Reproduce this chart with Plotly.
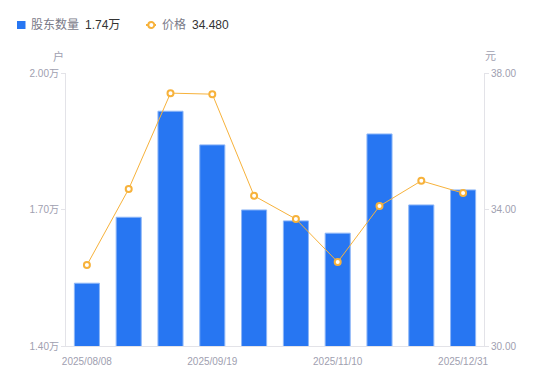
import plotly.graph_objects as go

dates = ["2025/08/08", "2025/08/20", "2025/08/31", "2025/09/19", "2025/09/30",
         "2025/10/20", "2025/11/10", "2025/11/20", "2025/11/30", "2025/12/31"]
holders = [1.538, 1.683, 1.916, 1.842, 1.699, 1.675, 1.648, 1.866, 1.710, 1.743]  # 万户
prices = [32.37, 34.60, 37.41, 37.38, 34.40, 33.72, 32.46, 34.10, 34.84, 34.48]
tick_dates = ["2025/08/08", "2025/09/19", "2025/11/10", "2025/12/31"]
left_ticks = [1.40, 1.70, 2.00]
left_ticktext = ["1.40万", "1.70万", "2.00万"]
right_ticks = [30, 34, 38]
right_ticktext = ["30.00", "34.00", "38.00"]

BLUE = "#2776F2"
ORANGE = "#F7B23B"
AXIS = "#E3E3E8"
TICKC = "#A0A0B0"
FONT = "Liberation Sans, Arial, Noto Sans CJK SC"

fig = go.Figure()
fig.add_trace(go.Bar(x=dates, y=holders, width=0.6, marker=dict(color=BLUE, line=dict(color="#8DB6F7", width=1)),
                     name="股东数量", yaxis="y"))
fig.add_trace(go.Scatter(x=dates, y=prices, mode="lines+markers", name="价格", yaxis="y2",
                         line=dict(color=ORANGE, width=1),
                         marker=dict(symbol="circle", size=6, color="white", line=dict(color=ORANGE, width=2))))

fig.update_layout(
    width=550, height=381,
    margin=dict(l=58, r=74, t=65, b=43),
    paper_bgcolor="white", plot_bgcolor="white",
    showlegend=False,
    font=dict(family=FONT, size=10, color=TICKC),
    xaxis=dict(type="category", range=[-0.5, len(dates) - 0.5], tickvals=tick_dates, ticktext=tick_dates,
               showgrid=False, showline=True, linecolor=AXIS, linewidth=1, ticks="", ticklabelstandoff=6,
               tickfont=dict(size=10, color=TICKC), zeroline=False, automargin=False),
    yaxis=dict(range=[1.4, 2.0], tickvals=left_ticks, ticktext=left_ticktext, showgrid=False,
               showline=True, linecolor=AXIS, linewidth=1, ticks="outside", ticklen=4, tickcolor=AXIS,
               tickfont=dict(size=10, color=TICKC), zeroline=False, automargin=False),
    yaxis2=dict(range=[30, 38], tickvals=right_ticks, ticktext=right_ticktext, overlaying="y", side="right",
                showgrid=False, showline=True, linecolor=AXIS, linewidth=1, ticks="outside", ticklen=4,
                tickcolor=AXIS, tickfont=dict(size=10, color=TICKC), zeroline=False, automargin=False),
    bargap=0.4,
)

def px(x):
    return (x - 66) / 418

def py(y):
    return (346 - y) / 273

# legend drawn manually
fig.add_shape(type="rect", xref="paper", yref="paper", x0=px(17), x1=px(25.5), y0=py(21), y1=py(29),
              line=dict(width=0), fillcolor=BLUE, layer="above")
fig.add_shape(type="line", xref="paper", yref="paper", x0=px(146), x1=px(156), y0=py(25), y1=py(25),
              line=dict(color=ORANGE, width=2))
fig.add_shape(type="circle", xref="paper", yref="paper", x0=px(148.3), x1=px(154.3), y0=py(22), y1=py(28),
              line=dict(color=ORANGE, width=2), fillcolor="white")

def ann(x, y, text, color, size=12, xanchor="left"):
    fig.add_annotation(xref="paper", yref="paper", x=x, y=y, text=text, showarrow=False,
                       xanchor=xanchor, yanchor="middle", font=dict(family=FONT, size=size, color=color))

ann(px(29), py(25), "股东数量", "#7A7A88")
ann(px(83), py(25), "1.74万", "#333333")
ann(px(160), py(25), "价格", "#7A7A88")
ann(px(190), py(25), "34.480", "#333333")
ann(px(58), py(56), "户", TICKC, size=11, xanchor="center")
ann(px(490), py(56), "元", TICKC, size=11, xanchor="center")

fig.write_html("out.html")
